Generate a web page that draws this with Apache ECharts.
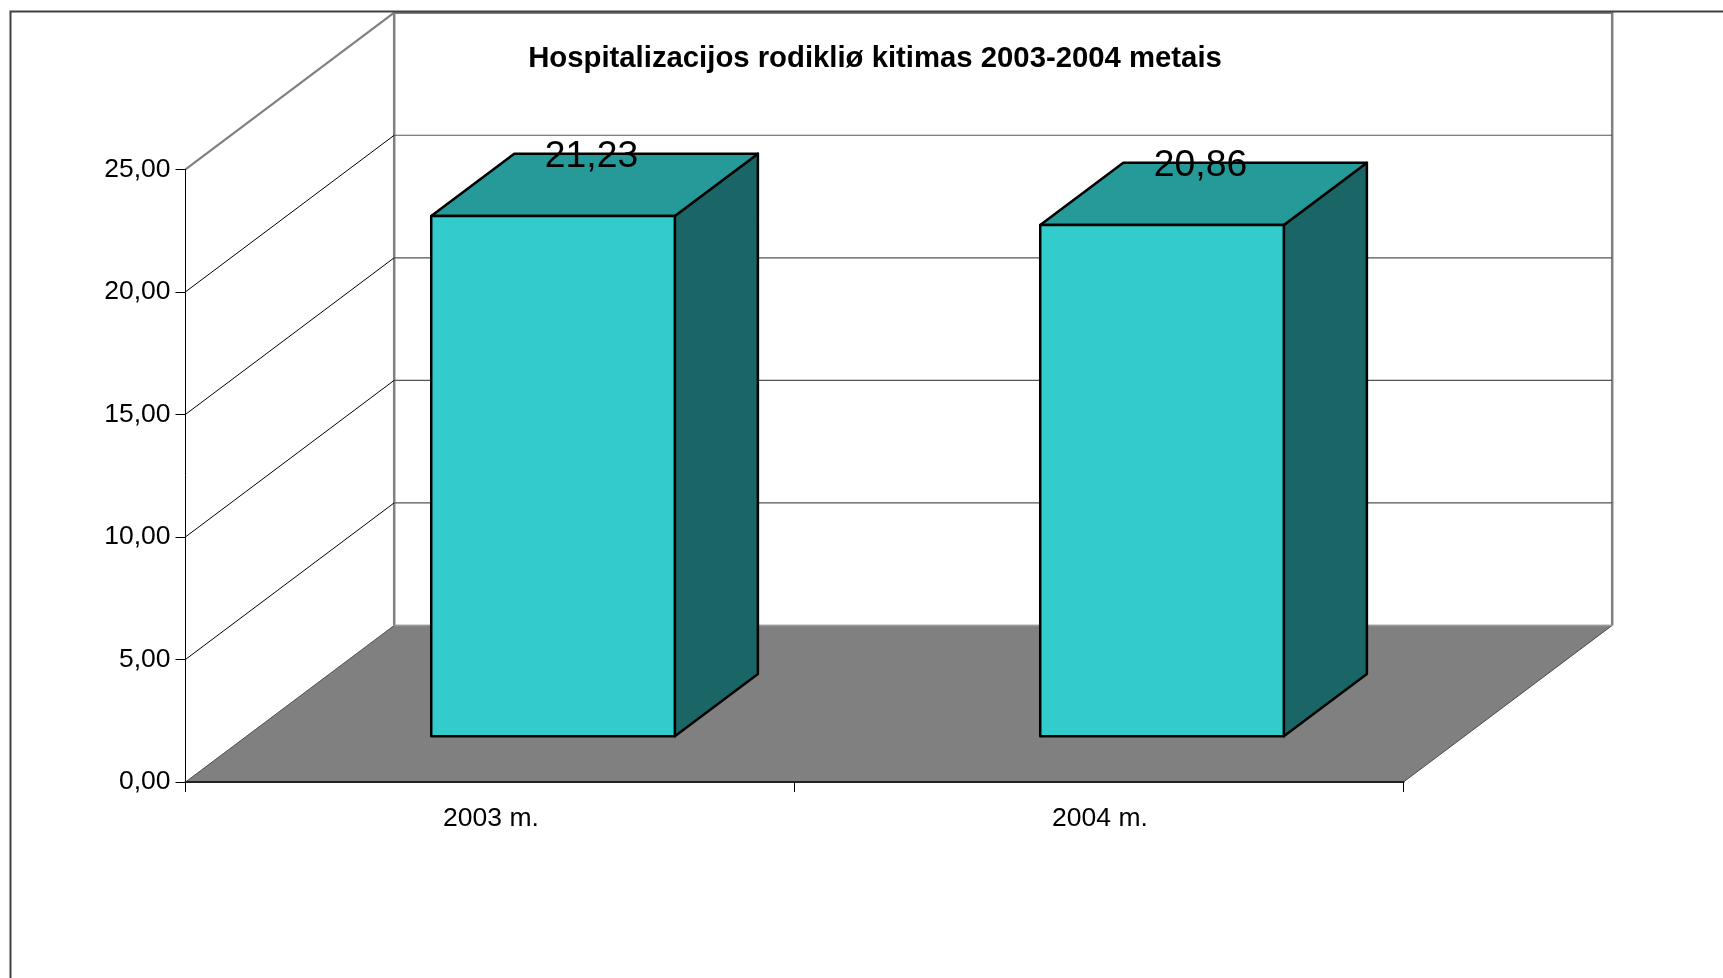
<!DOCTYPE html>
<html>
<head>
<meta charset="utf-8">
<style>html,body{margin:0;padding:0;background:#fff}#c{width:1723px;height:978px}</style>
<script src="https://cdn.jsdelivr.net/npm/echarts@6/dist/echarts.min.js"></script>
</head>
<body>
<div id="c"></div>
<script>
const categories = ['2003 m.', '2004 m.'];
const values = [21.23, 20.86];
const yTicks = [0, 5, 10, 15, 20, 25];
const titleText = 'Hospitalizacijos rodikliø kitimas 2003-2004 metais';

const FONT = '"Liberation Sans", Arial, sans-serif';
const DX = 208.7, DY = 156.6;          // oblique depth of the floor
const FRONT_X = 0.302, BACK_X = 0.7;   // bar depth span across the floor, horizontally
const FRONT_Y = 0.2925, BACK_Y = 0.69; // bar depth span across the floor, vertically
const BAR = 0.4;                       // bar width, fraction of a band
const fmt = v => v.toFixed(2).replace('.', ',');

const chart = echarts.init(document.getElementById('c'), null, {renderer: 'canvas'});
chart.setOption({
  animation: false,
  backgroundColor: '#fff',
  title: {
    text: titleText, left: 870, top: 39, textAlign: 'center',
    textStyle: {fontFamily: FONT, fontSize: 29.3, fontWeight: 'bold', color: '#000'}
  },
  graphic: [{
    type: 'polyline', silent: true, z: 10,
    shape: {points: [[10.5, 978], [10.5, 11.5], [1723, 11.5]]},
    style: {stroke: '#404040', lineWidth: 2, fill: null}
  }],
  grid: {left: 185.5, top: 169.3, width: 1218, height: 612.7, containLabel: false},
  xAxis: {
    type: 'category', data: categories, z: 5,
    axisLine: {lineStyle: {color: '#222', width: 2}},
    axisTick: {show: true, length: 10, alignWithLabel: false, lineStyle: {color: '#000', width: 1}},
    axisLabel: {color: '#000', fontFamily: FONT, fontSize: 26.5, margin: 23, padding: [0, 0, 0, 2]},
    splitLine: {show: false}
  },
  yAxis: {
    type: 'value', min: 0, max: 25, interval: 5, z: 5,
    axisLine: {show: true, lineStyle: {color: '#000', width: 1}},
    axisTick: {show: true, length: 10, lineStyle: {color: '#000', width: 1}},
    axisLabel: {color: '#000', fontFamily: FONT, fontSize: 26.5, margin: 15, padding: [4, 0, 0, 0], formatter: fmt},
    splitLine: {show: false}
  },
  series: [
    { // floor and back wall
      type: 'custom', silent: true, z: 1, data: [0],
      renderItem(params, api) {
        const g = params.coordSys, x0 = g.x, x1 = g.x + g.width, yb = g.y + g.height, yt = g.y;
        const gray = {stroke: '#808080', lineWidth: 2.5, fill: null};
        return {type: 'group', children: [
          {type: 'polygon', shape: {points: [[x0, yb], [x1, yb], [x1 + DX, yb - DY], [x0 + DX, yb - DY]]},
           style: {fill: '#808080', stroke: '#333', lineWidth: 0.8}},
          {type: 'polyline', shape: {points: [[x0 + DX, yb - DY], [x0 + DX, yt - DY], [x1 + DX, yt - DY], [x1 + DX, yb - DY]]}, style: gray},
          {type: 'polyline', shape: {points: [[x0 + DX, yb - DY], [x1 + DX, yb - DY]]}, style: {stroke: '#999', lineWidth: 1.5, fill: null}}
        ]};
      }
    },
    { // gridlines on the side and back walls
      type: 'custom', silent: true, z: 1,
      data: yTicks.filter(v => v > 0).map(v => [0, v]),
      encode: {x: 0, y: 1},
      renderItem(params, api) {
        const g = params.coordSys, y = api.coord([0, api.value(1)])[1];
        const top = api.value(1) === yTicks[yTicks.length - 1];
        return {type: 'group', children: [
          {type: 'line', shape: {x1: g.x, y1: y, x2: g.x + DX, y2: y - DY},
           style: {stroke: top ? '#808080' : '#000', lineWidth: top ? 2.2 : 1}},
          {type: 'line', shape: {x1: g.x + DX, y1: y - DY, x2: g.x + g.width + DX, y2: y - DY},
           style: {stroke: top ? '#808080' : '#555', lineWidth: top ? 2.5 : 1.2}}
        ]};
      }
    },
    { // 3D columns
      type: 'custom', silent: true, z: 3,
      data: values.map((v, i) => [i, v]),
      encode: {x: 0, y: 1},
      renderItem(params, api) {
        const i = api.value(0), v = api.value(1);
        const top = api.coord([i, v]), base = api.coord([i, 0]);
        const w = api.size([1, 0])[0] * BAR;
        const fx = DX * FRONT_X, fy = DY * FRONT_Y, bx = DX * BACK_X, by = DY * BACK_Y;
        const L = top[0] - w / 2 + fx, R = L + w;
        const yT = top[1] - fy, yB = base[1] - fy;
        const ddx = bx - fx, ddy = by - fy;
        const edge = {stroke: '#000', lineWidth: 2.5, lineJoin: 'round'};
        return {type: 'group', children: [
          {type: 'polygon', shape: {points: [[R, yT], [R + ddx, yT - ddy], [R + ddx, yB - ddy], [R, yB]]},
           style: Object.assign({fill: '#1A6666'}, edge)},
          {type: 'polygon', shape: {points: [[L, yT], [L + ddx, yT - ddy], [R + ddx, yT - ddy], [R, yT]]},
           style: Object.assign({fill: '#269999'}, edge)},
          {type: 'rect', shape: {x: L, y: yT, width: w, height: yB - yT},
           style: Object.assign({fill: '#33CCCC'}, edge)},
          {type: 'text', z2: 10, x: (L + R) / 2 + 38.5, y: yT - ddy + 3,
           style: {text: fmt(v), fill: '#000', font: '37.3px ' + FONT, textAlign: 'center', textVerticalAlign: 'middle'}}
        ]};
      }
    }
  ]
});
</script>
</body>
</html>
